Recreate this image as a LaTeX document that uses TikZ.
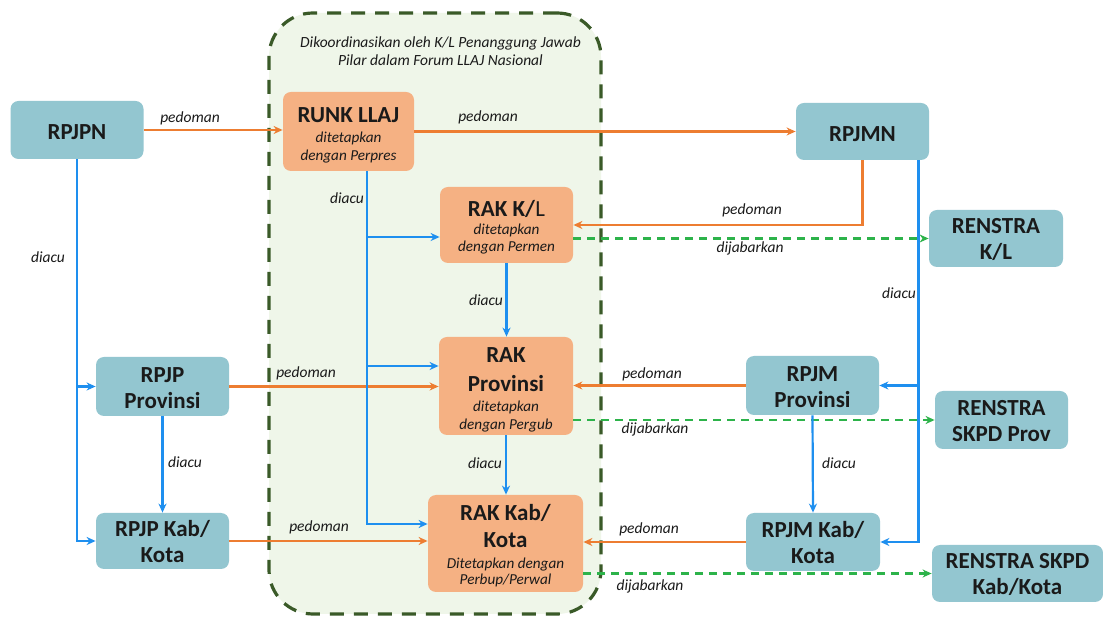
\documentclass[tikz,border=0pt]{standalone}
\usepackage{fontspec}
\setmainfont{Carlito}
\usetikzlibrary{arrows.meta}
\definecolor{boxblue}{HTML}{93C6D0}
\definecolor{boxorange}{HTML}{F5B183}
\definecolor{framefill}{HTML}{EFF6E9}
\definecolor{framedraw}{HTML}{3A5A28}
\definecolor{arrorange}{HTML}{ED7D31}
\definecolor{arrblue}{HTML}{1E8FEF}
\definecolor{arrgreen}{HTML}{2DB34A}
\definecolor{txt}{HTML}{1A1A1A}
\newcommand{\sm}[1]{{\normalfont\itshape\fontsize{7.6}{9}\selectfont #1}}
\newcommand{\tp}[1]{\rule{0pt}{#1}}
\tikzset{
  boxbase/.style={rounded corners=4pt, align=center, inner sep=0pt, text=txt,
    font=\bfseries\fontsize{11.5}{13}\selectfont},
  bbox/.style={boxbase, fill=boxblue, minimum width=66.5pt, minimum height=29pt},
  obox/.style={boxbase, fill=boxorange},
  lab/.style={font=\itshape\fontsize{7.75}{9}\selectfont, inner sep=0pt, text=txt},
  oarrow/.style={draw=arrorange, line width=1.1pt, -{Stealth[length=4.5pt,width=4pt]}},
  barrow/.style={draw=arrblue, line width=1.1pt, -{Stealth[length=4.5pt,width=4pt]}},
  garrow/.style={draw=arrgreen, line width=1.1pt, dash pattern=on 4pt off 3pt, -{Stealth[length=4.5pt,width=4pt]}},
}
\begin{document}
\begin{tikzpicture}[x=0.5pt,y=-0.5pt]
\useasboundingbox (0,0) rectangle (1103,619);
\fill[white] (0,0) rectangle (1103,619);
% frame
\node[draw=framedraw, fill=framefill, line width=1.6pt, dash pattern=on 7pt off 5pt,
      rounded corners=22pt, minimum width=166pt, minimum height=300.5pt, inner sep=0pt]
      (frame) at (435,313.5) {};
\node[lab, align=center, font=\itshape\fontsize{7.75}{9}\selectfont] (title) at (440.5,51)
  {Dikoordinasikan oleh K/L Penanggung Jawab\\Pilar dalam Forum LLAJ Nasional};
% boxes
\node[bbox] (rpjpn) at (77,130) {\tp{9.9pt}RPJPN};
\node[obox, minimum width=65.5pt, minimum height=39.5pt] (runk) at (348.5,131.5)
  {\tp{11pt}RUNK LLAJ\\[-3pt]\sm{ditetapkan}\\[-4pt]\sm{dengan Perpres}};
\node[bbox, minimum height=28.5pt] (rpjmn) at (862.5,131.5) {\tp{9.9pt}RPJMN};
\node[obox, minimum width=66.5pt, minimum height=38pt] (rakkl) at (506.5,225)
  {\tp{10.5pt}RAK K/\textmd{L}\\[-4pt]\sm{ditetapkan}\\[-4.5pt]\sm{dengan Permen}};
\node[bbox, minimum width=67pt, minimum height=28.5pt] (renkl) at (996,238.5) {\tp{9pt}RENSTRA\\K/L};
\node[obox, minimum width=67pt, minimum height=49pt] (rakprov) at (506,386)
  {\tp{11.4pt}RAK\\[1.5pt]Provinsi\\[-3pt]\sm{ditetapkan}\\[-4pt]\sm{dengan Pergub}};
\node[bbox, minimum height=29.5pt] (rpjpprov) at (162.5,386.5) {\tp{9pt}RPJP\\Provinsi};
\node[bbox, minimum height=29.5pt] (rpjmprov) at (812.5,385.5) {\tp{9pt}RPJM\\Provinsi};
\node[bbox] (renprov) at (1001.5,420) {\tp{9pt}RENSTRA\\SKPD Prov};
\node[bbox, minimum height=28pt] (rpjpkab) at (162.5,541) {\tp{9pt}RPJP Kab/\\Kota};
\node[obox, minimum width=77.5pt, minimum height=48.5pt] (rakkab) at (505.5,543.5)
  {\tp{10.5pt}RAK Kab/\\[0.5pt]Kota\\[-2.5pt]\sm{Ditetapkan dengan}\\[-5pt]\sm{Perbup/Perwal}};
\node[bbox, minimum width=67pt] (rpjmkab) at (813,542) {\tp{9pt}RPJM Kab/\\Kota};
\node[bbox, minimum width=85.5pt, minimum height=28.5pt] (renkab) at (1017.5,573.5) {\tp{9pt}RENSTRA SKPD\\Kab/Kota};
% helper coordinates
\coordinate (ru) at ([xshift=9.25pt]runk.south);
\coordinate (rk1) at ([yshift=-6pt]rakkl.west);
\coordinate (rk2) at ([yshift=10pt]rakprov.west);
\coordinate (rk3) at ([yshift=9.75pt]rakkab.west);
\coordinate (mnb) at ([xshift=-5.5pt]rpjmn.south east);
% orange connectors
\draw[oarrow] (rpjpn.east) -- (rpjpn.east -| runk.west);
\draw[oarrow] (runk.east) -- (runk.east -| rpjmn.west);
\draw[oarrow] (rpjmn.south) |- (rakkl.east);
\draw[oarrow] (rpjpprov.east) -- (rpjpprov.east -| rakprov.west);
\draw[oarrow] (rpjpkab.east) -- (rpjpkab.east -| rakkab.west);
\draw[oarrow] (rpjmprov.west) -- (rpjmprov.west -| rakprov.east);
\draw[oarrow] (rpjmkab.west) -- (rpjmkab.west -| rakkab.east);
% green connectors
\draw[garrow] (rakkl.east |- renkl.west) -- (renkl.west);
\draw[garrow] (rakprov.east |- renprov.west) -- (renprov.west);
\draw[garrow] (rakkab.east |- renkab.west) -- (renkab.west);
% blue connectors
\draw[barrow] (rpjpn.south) |- (rpjpkab.west);
\draw[barrow] (rpjpn.south |- rpjpprov.west) -- (rpjpprov.west);
\draw[barrow] (rpjpprov.south) -- (rpjpkab.north);
\draw[barrow] (ru) |- (rk3);
\draw[barrow] (ru |- rk1) -- (rk1);
\draw[barrow] (ru |- rk2) -- (rk2);
\draw[barrow] (rakkl.south) -- (rakkl.south |- rakprov.north);
\draw[barrow] (rakprov.south) -- (rakprov.south |- rakkab.north);
\draw[barrow] (mnb) |- (rpjmkab.east);
\draw[barrow] (mnb |- rpjmprov.east) -- (rpjmprov.east);
\draw[barrow] (rpjmprov.south) -- (rpjmkab.north);
% labels
\node[lab] (l1) at (190,118) {pedoman};
\node[lab] (l2) at (488,117) {pedoman};
\node[lab] (l3) at (752,210) {pedoman};
\node[lab] (l4) at (750,248) {dijabarkan};
\node[lab] (l5) at (899,293) {diacu};
\node[lab] (l6) at (347,198) {diacu};
\node[lab] (l7) at (486,300) {diacu};
\node[lab] (l8) at (485,463) {diacu};
\node[lab] (l9) at (48,257) {diacu};
\node[lab] (l10) at (185,462) {diacu};
\node[lab] (l11) at (306,373) {pedoman};
\node[lab] (l12) at (319,527) {pedoman};
\node[lab] (l13) at (652,374) {pedoman};
\node[lab] (l14) at (649,529) {pedoman};
\node[lab] (l15) at (655,429) {dijabarkan};
\node[lab] (l16) at (650,586) {dijabarkan};
\node[lab] (l17) at (839,463) {diacu};
\end{tikzpicture}
\end{document}
